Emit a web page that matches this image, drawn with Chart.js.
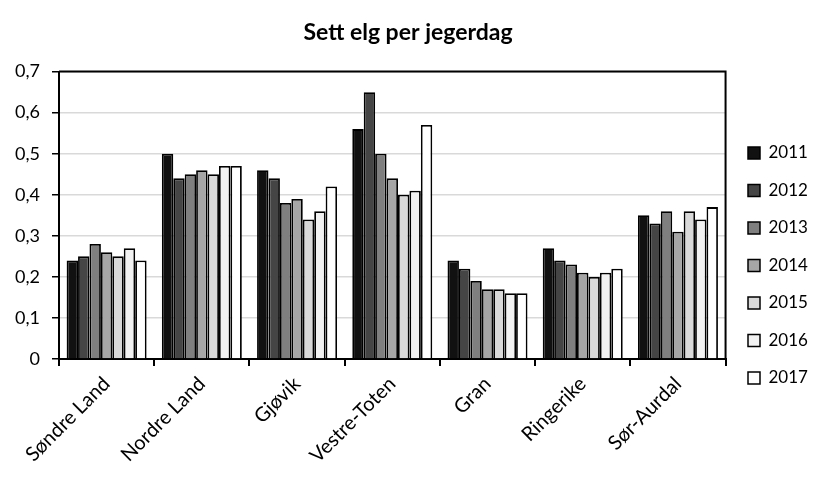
<!DOCTYPE html>
<html>
<head>
<meta charset="utf-8">
<script src="https://cdn.jsdelivr.net/npm/chart.js@4"></script>
<style>
html,body{margin:0;padding:0;background:#fff;}
#wrap{width:828px;height:483px;position:relative;}
</style>
</head>
<body>
<div id="wrap"><canvas id="c" width="828" height="483"></canvas></div>
<script>
const categories = ["Søndre Land","Nordre Land","Gjøvik","Vestre-Toten","Gran","Ringerike","Sør-Aurdal"];
const years = ["2011","2012","2013","2014","2015","2016","2017"];
const v2011 = [0.24,0.50,0.46,0.56,0.24,0.27,0.35];
const v2012 = [0.25,0.44,0.44,0.65,0.22,0.24,0.33];
const v2013 = [0.28,0.45,0.38,0.50,0.19,0.23,0.36];
const v2014 = [0.26,0.46,0.39,0.44,0.17,0.21,0.31];
const v2015 = [0.25,0.45,0.34,0.40,0.17,0.20,0.36];
const v2016 = [0.27,0.47,0.36,0.41,0.16,0.21,0.34];
const v2017 = [0.24,0.47,0.42,0.57,0.16,0.22,0.37];
const yTicks = [0,0.1,0.2,0.3,0.4,0.5,0.6,0.7];

const series = [v2011,v2012,v2013,v2014,v2015,v2016,v2017];
const fills = ["#111111","#454545","#7f7f7f","#a6a6a6","#d9d9d9","#f2f2f2","#ffffff"];
const FONT = "Lato";
const LEG_PAD = 20.5;

const frame = {
  id:'frame',
  afterLayout(chart){
    const lg = chart.legend;
    if(!lg) return;
    const dx = 748 - LEG_PAD - lg.left;
    lg.left += dx; lg.right += dx;
    const ty = 153 - 8.5 - LEG_PAD;
    const dy = ty - lg.top;
    lg.top += dy; lg.bottom += dy;
  },
  afterDatasetsDraw(chart){
    const {ctx, chartArea:a} = chart;
    ctx.save();
    ctx.strokeStyle='#000';
    ctx.lineWidth=2;
    ctx.beginPath();
    ctx.moveTo(a.left, a.top);
    ctx.lineTo(a.right, a.top);
    ctx.lineTo(a.right, a.bottom);
    ctx.stroke();
    ctx.restore();
  }
};

new Chart(document.getElementById('c'), {
  type:'bar',
  data:{
    labels:categories,
    datasets: series.map((d,i)=>({
      label:years[i], data:d,
      backgroundColor:fills[i], borderColor:'#000', borderWidth:1.8,
      categoryPercentage:0.84, barPercentage:1.0
    }))
  },
  options:{
    responsive:false, animation:false,
    layout:{padding:{left:0,right:12,top:0,bottom:0}},
    plugins:{
      title:{display:true,text:'Sett elg per jegerdag',color:'#000',
        font:{family:FONT,size:23,weight:'bold'},padding:{top:19,bottom:25}},
      legend:{position:'right',align:'start',
        labels:{color:'#000',font:{family:FONT,size:17},boxWidth:12,boxHeight:12,padding:LEG_PAD,
          generateLabels(chart){
            return chart.data.datasets.map((ds,i)=>({text:ds.label,fillStyle:ds.backgroundColor,strokeStyle:'#000',lineWidth:1.5,datasetIndex:i,fontColor:'#000'}));
          }}},
      tooltip:{enabled:false}
    },
    scales:{
      x:{
        afterFit(s){ s.height = 124; },
        grid:{display:true,drawOnChartArea:false,drawTicks:true,tickLength:7,color:'#000',lineWidth:2,offset:true},
        border:{display:true,color:'#000',width:2},
        ticks:{color:'#000',font:{family:FONT,size:20},minRotation:45,maxRotation:45,padding:6}
      },
      y:{
        min:0,max:0.7,
        afterFit(s){ s.width = 59; },
        afterBuildTicks(s){ s.ticks = yTicks.map(v=>({value:v})); },
        grid:{color:'#d9d9d9',lineWidth:1.5,drawTicks:true,tickLength:7,tickColor:'#000'},
        border:{display:true,color:'#000',width:2},
        ticks:{color:'#000',font:{family:FONT,size:18},padding:12,
          callback:v=> v===0 ? '0' : v.toFixed(1).replace('.',',')}
      }
    }
  },
  plugins:[frame]
});
</script>
</body>
</html>
